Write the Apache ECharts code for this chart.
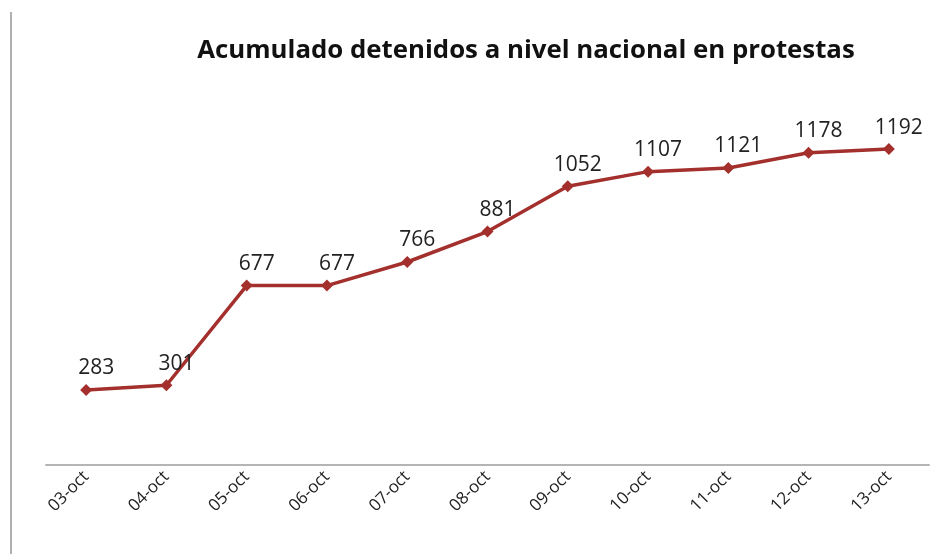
<!DOCTYPE html>
<html>
<head>
<meta charset="utf-8">
<script src="https://cdn.jsdelivr.net/npm/echarts@6/dist/echarts.min.js"></script>
<style>html,body{margin:0;padding:0;background:#fff}#c{width:942px;height:554px}</style>
</head>
<body>
<div id="c"></div>
<script>
const categories = ['03-oct','04-oct','05-oct','06-oct','07-oct','08-oct','09-oct','10-oct','11-oct','12-oct','13-oct'];
const detenidos = [283, 301, 677, 677, 766, 881, 1052, 1107, 1121, 1178, 1192];
const titleText = 'Acumulado detenidos a nivel nacional en protestas';

const chart = echarts.init(document.getElementById('c'));
chart.setOption({
  animation: false,
  backgroundColor: '#fff',
  title: {
    text: titleText,
    left: 521, top: 33, textAlign: 'center',
    textStyle: { fontFamily: 'Open Sans', fontWeight: 'bold', fontSize: 25.8, color: '#111' }
  },
  graphic: [{
    type: 'line', shape: { x1: 11, y1: 12, x2: 11, y2: 554 },
    style: { stroke: '#b0b0b0', lineWidth: 2 }
  }],
  grid: { left: 46, right: 13, top: 94, bottom: 89 },
  xAxis: {
    type: 'category', data: categories, boundaryGap: true,
    axisLine: { lineStyle: { color: '#b5b5b5', width: 2 } },
    axisTick: { show: false },
    axisLabel: { rotate: 45, fontFamily: 'Open Sans', fontSize: 17, color: '#222', margin: 9 }
  },
  yAxis: {
    type: 'value', min: 0, max: 1400,
    show: false, splitLine: { show: false }
  },
  series: [{
    type: 'line', data: detenidos,
    symbol: 'diamond', symbolSize: 12,
    lineStyle: { color: '#A3302D', width: 3.5 },
    itemStyle: { color: '#A3302D' },
    label: {
      show: true, position: 'top', distance: 5, offset: [10, 0],
      fontFamily: 'Open Sans', fontSize: 21, color: '#222'
    }
  }]
});
</script>
</body>
</html>
